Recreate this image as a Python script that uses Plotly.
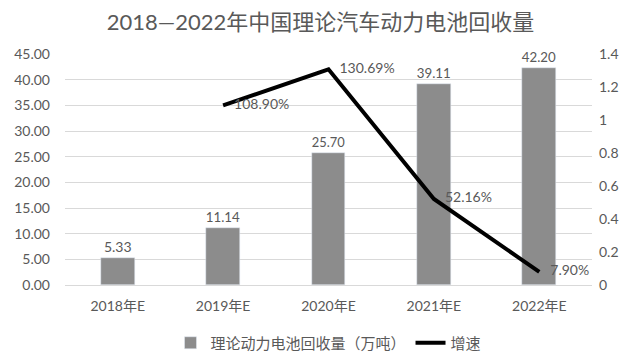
import plotly.graph_objects as go

categories = ["2018年E", "2019年E", "2020年E", "2021年E", "2022年E"]
recycle = [5.33, 11.14, 25.70, 39.11, 42.20]
growth_cats = ["2019年E", "2020年E", "2021年E", "2022年E"]
growth = [1.0890, 1.3069, 0.5216, 0.0790]
growth_labels = ["108.90%", "130.69%", "52.16%", "7.90%"]

FONT = "Lato, Noto Sans CJK SC, sans-serif"
GREY = "#595959"

fig = go.Figure()
fig.add_trace(go.Bar(
    x=categories, y=recycle, name="理论动力电池回收量（万吨）",
    marker=dict(color="#8c8c8c"), width=0.32,
    text=[f"{v:.2f}" for v in recycle], textposition="outside",
    textfont=dict(size=14, color=GREY), cliponaxis=False,
))
fig.add_trace(go.Scatter(
    x=growth_cats, y=growth, name="增速", yaxis="y2",
    mode="lines+markers+text", line=dict(color="black", width=4),
    marker=dict(size=16, color="rgba(0,0,0,0)"),
    text=growth_labels, textposition="middle right",
    textfont=dict(size=14, color=GREY), cliponaxis=False,
))

# page has an 8px body margin, so the figure is sized to fill the rest of the window
fig.update_layout(
    width=625, height=349,
    margin=dict(l=57, r=41, t=46, b=72, autoexpand=False),
    paper_bgcolor="white", plot_bgcolor="white",
    font=dict(family=FONT, color=GREY, size=13),
    title=dict(text="2018—2022年中国理论汽车动力电池回收量", x=0.5, xanchor="center",
               yref="container", y=1 - 14 / 349, yanchor="middle",
               font=dict(size=22, color=GREY, family=FONT)),
    xaxis=dict(showline=True, linecolor="#d9d9d9", ticks="", tickfont=dict(size=14, color=GREY),
               ticklabelstandoff=8),
    yaxis=dict(range=[0, 45], dtick=5, tickformat=".2f", showgrid=True, gridcolor="#d9d9d9",
               zeroline=False, tickfont=dict(size=14, color=GREY), ticklabelstandoff=14),
    yaxis2=dict(range=[0, 1.4], dtick=0.2, overlaying="y", side="right", showgrid=False,
                zeroline=False, tickfont=dict(size=14, color=GREY), ticklabelstandoff=6),
    legend=dict(orientation="h", x=0.5, xanchor="center", yref="container", y=14 / 349,
                yanchor="middle", font=dict(size=15, color=GREY)),
    bargap=0,
)

fig.write_html("out.html")
